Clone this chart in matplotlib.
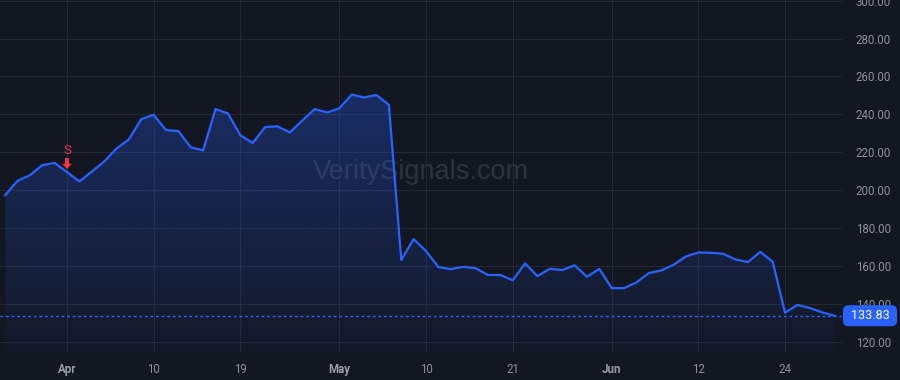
import matplotlib
matplotlib.use("Agg")
import matplotlib.pyplot as plt
from matplotlib.patches import FancyBboxPatch, FancyArrowPatch
import numpy as np

# ---- data (trading days 2024-03-22 .. 2024-06-28) ----
prices = [197.4, 204.9, 207.9, 213.2, 214.4, 209.6, 204.6, 209.8, 215.1, 222.0,
          226.8, 237.5, 239.8, 231.7, 231.2, 222.6, 221.0, 242.8, 240.5, 229.0,
          224.9, 233.3, 233.7, 230.5, 236.7, 242.8, 241.0, 243.2, 250.4, 248.9,
          250.2, 245.1, 163.2, 174.2, 167.9, 159.5, 158.4, 159.6, 158.9, 155.3,
          155.3, 152.5, 161.4, 154.7, 158.6, 157.9, 160.4, 154.4, 158.5, 148.4,
          148.4, 151.4, 156.3, 157.7, 160.7, 165.1, 167.2, 167.0, 166.5, 163.5,
          162.1, 167.5, 162.3, 135.4, 139.5, 137.9, 135.6, 133.83]
tick_idx = [5, 12, 19, 27, 34, 41, 49, 56, 63]
tick_labels = ["Apr", "10", "19", "May", "10", "21", "Jun", "12", "24"]
month_labels = {"Apr", "May", "Jun"}
y_ticks = [120, 140, 160, 180, 200, 220, 240, 260, 280, 300]
signal_idx = 5
signal_text = "S"
watermark = "VeritySignals.com"
last_price = prices[-1]

BG = "#131722"
GRID = "#242934"
LINE = "#2962ff"
TXT = "#8c919b"
RED = "#f23645"

plt.rcParams["font.family"] = ["Roboto", "DejaVu Sans"]

W, H = 900, 380
fig = plt.figure(figsize=(9, 3.8), dpi=100, facecolor=BG)
ax = fig.add_axes([0, 28 / H, 842 / W, 352 / H], facecolor=BG)

x = np.arange(len(prices))
X0, X1, Y0, Y1 = -0.41, 67.6, 114.7, 300.3
ax.set_xlim(X0, X1)
ax.set_ylim(Y0, Y1)

# gradient fill under the line
poly = ax.fill_between(x, prices, Y0, color="none", lw=0)
rgba = np.zeros((256, 1, 4))
rgba[..., 0] = 41 / 255
rgba[..., 1] = 98 / 255
rgba[..., 2] = 1.0
rgba[..., 3] = np.linspace(0.30, 0.03, 256).reshape(-1, 1)
im = ax.imshow(rgba, aspect="auto", extent=[X0, X1, Y0, 252], origin="upper",
               zorder=1, interpolation="bilinear")
im.set_clip_path(poly.get_paths()[0], transform=ax.transData)

ax.plot(x, prices, color=LINE, lw=1.6, zorder=3, solid_joinstyle="round")

# last price dotted line
ax.axhline(last_price, color=LINE, lw=1.0, ls=(0, (2, 2)), zorder=2)

# grid & ticks
ax.set_yticks(y_ticks)
ax.set_yticklabels([f"{v:.2f}" for v in y_ticks])
ax.set_xticks(tick_idx)
ax.set_xticklabels(tick_labels)
ax.grid(True, color=GRID, lw=0.8, zorder=0)
ax.set_axisbelow(True)
for s in ax.spines.values():
    s.set_visible(False)
ax.yaxis.tick_right()
ax.tick_params(axis="y", length=0, pad=10, labelsize=8.3, labelcolor=TXT)
ax.tick_params(axis="x", length=0, pad=8, labelsize=8.3, labelcolor=TXT)
for lab in ax.get_xticklabels():
    if lab.get_text() in month_labels:
        lab.set_fontweight("bold")
        lab.set_color("#9a9ea7")

# watermark
ax.text(0.5, 0.51, watermark, transform=ax.transAxes, ha="center", va="center",
        fontsize=19.5, color="#9598a1", alpha=0.22, zorder=0.5,
        family=["Liberation Sans", "DejaVu Sans"])

# signal marker (arrow + letter), positioned from the data point
inv = fig.transFigure.inverted()
p0 = ax.transData.transform((signal_idx, prices[signal_idx]))
tip = inv.transform((p0[0], p0[1] + 3))
tail = inv.transform((p0[0], p0[1] + 14))
fig.add_artist(FancyArrowPatch(
    tail, tip, transform=fig.transFigure,
    arrowstyle="simple,head_length=3.8,head_width=7,tail_width=2.9",
    color=RED, lw=0, mutation_scale=1, shrinkA=0, shrinkB=0))
stxt = inv.transform((p0[0], p0[1] + 22))
fig.text(stxt[0], stxt[1], signal_text, color=RED, fontsize=9.5,
         ha="center", va="center")

# last price label box
py = ax.transData.transform((0, last_price))[1]
bx0, bx1 = 843, 897
bh = 21
fig.add_artist(FancyBboxPatch((bx0 / W, (py - bh / 2) / H),
                              (bx1 - bx0) / W, bh / H,
                              boxstyle="round,pad=0,rounding_size=0.006",
                              transform=fig.transFigure, facecolor=LINE,
                              edgecolor="none", mutation_aspect=W / H, zorder=5))
fig.text((bx0 + bx1) / 2 / W, py / H, f"{last_price:.2f}", color="white",
         fontsize=9, ha="center", va="center", zorder=6)

fig.savefig("out.png", dpi=100, facecolor=BG)
